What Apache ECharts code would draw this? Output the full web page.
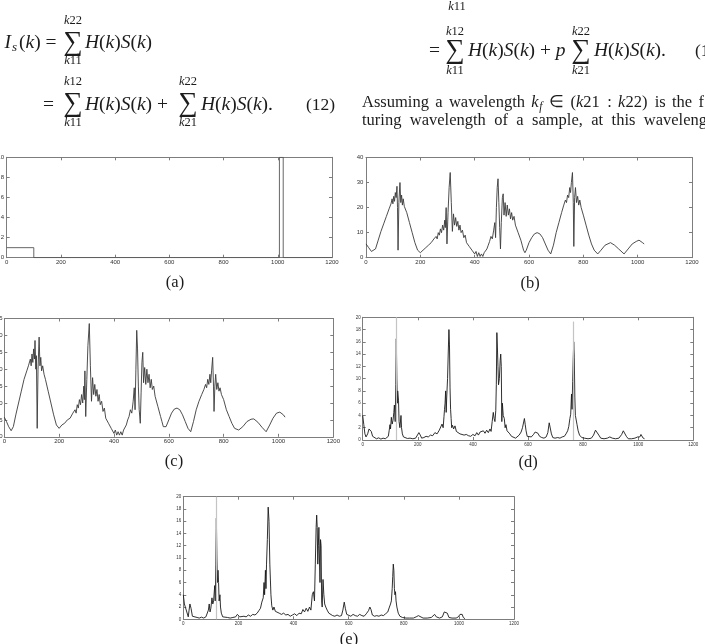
<!DOCTYPE html>
<html>
<head>
<meta charset="utf-8">
<script src="https://cdn.jsdelivr.net/npm/echarts@6/dist/echarts.min.js"></script>
<style>
html, body { margin: 0; padding: 0; background: #fff; }
#chart { width: 705px; height: 644px; }
</style>
</head>
<body>
<div id="chart"></div>
<script>
// ---- data ----
var captions = ['(a)', '(b)', '(c)', '(d)', '(e)'];
var xMax = 1200, xStep = 200;
var yMaxes = [10, 40, 35, 20, 20];
var ySteps = [2, 10, 5, 2, 2];

// (a) filter: low plateau + narrow window near 1010
var filterA = [[0,1],[100,1],[100,0],[1006,0],[1006,10],[1020,10],[1020,0],[1200,0]];

// (b) measured spectrum
var specB = [[0,5.5],[10,4],[20,2.5],[27,2],[35,3.5],[45,7],[55,10.5],[65,13.5],[75,16.5],[85,19.5],[92,21.5],[96,23.5],[99,21.5],[102,24.5],[105,22.5],[108,26],[111,24],[114,28.5],[116,20],[118,3],[121,22],[125,30],[128,22],[131,25],[134,21],[137,23.5],[141,20.5],[145,21],[150,18],[160,14],[170,10],[180,6],[190,3],[200,2],[210,3],[220,4],[230,5],[240,6],[250,7.5],[258,8.5],[262,7.5],[266,10],[270,9],[274,11.5],[278,10],[282,13],[286,11],[290,15],[292,12],[295,20],[298,5.5],[302,18],[306,28],[310,34],[314,22],[318,10.5],[322,17.5],[326,13],[330,16],[334,12.5],[338,14.5],[342,11],[346,13],[350,10],[355,11],[360,8],[365,9],[370,6],[375,6.5],[380,4.5],[385,4.5],[390,3],[395,3],[400,1.5],[405,2.5],[410,0.5],[415,2],[420,0.5],[425,1.5],[430,0.5],[435,2],[440,1.5],[445,3.5],[450,5],[455,6.5],[460,8.5],[465,7.5],[470,11],[474,14],[477,8],[480,20],[483,28],[486,31.5],[489,22],[492,12],[495,3.5],[498,14],[502,24],[505,25.5],[508,17],[512,22],[516,16.5],[520,21],[524,17],[528,19.5],[532,15.5],[536,18],[540,15],[545,16.5],[550,13],[555,13.5],[560,10],[565,9.5],[570,7],[575,5],[580,3],[585,2],[590,3],[600,6],[610,8],[620,9.5],[630,10],[640,9.5],[650,8],[660,5.5],[670,3],[680,1.5],[690,5],[700,10],[710,14],[720,18],[728,21],[734,23],[738,22],[742,25],[746,24],[750,28],[753,26],[756,30],[760,34],[763,22],[765,4.5],[768,24],[771,28],[775,22],[779,24.5],[783,21],[787,23],[792,20],[800,17],[810,13],[820,9],[830,5.5],[840,3],[853,1.5],[865,3],[880,5],[900,6],[915,5],[930,3.5],[950,1.5],[965,3.5],[980,5.5],[995,6.5],[1005,7],[1012,6.5],[1018,6],[1024,5.5]];

// (c) filtered spectrum
var specC = [[0,5.8],[8,4.5],[16,3],[25,1.8],[33,3],[42,6.5],[52,10],[62,13.5],[72,17],[82,19.5],[88,21],[92,20.5],[95,23],[98,21],[101,24.5],[104,22],[107,26],[110,23],[112,28.5],[115,20],[117,24],[120,2.5],[123,20],[127,29.5],[130,21],[133,23.5],[136,19.5],[140,21],[145,18.5],[150,17],[160,13.5],[170,10],[180,6.5],[190,3.5],[200,2.5],[210,3.5],[220,4],[230,5],[240,5.5],[250,7],[258,8],[262,7],[266,9.5],[270,8.5],[274,11],[278,9.5],[282,12.5],[286,10],[290,15],[292,11],[294,19.5],[297,6],[301,17],[305,27],[310,33.5],[314,21],[318,10.5],[322,17.5],[326,12.5],[330,15.5],[334,12],[338,14],[342,10.5],[346,12.5],[350,9.5],[355,10.5],[360,7.5],[365,8.5],[370,5.5],[375,6],[380,4],[385,4],[390,2.5],[395,2.5],[400,1],[405,2],[410,0.5],[415,1.5],[420,0.5],[425,1.5],[430,0.5],[435,2],[440,2],[445,3.5],[450,5],[455,6],[460,8],[465,7],[470,10.5],[474,14.5],[477,8],[480,20],[483,31.5],[486,26],[489,15],[492,8],[496,4],[499,13],[502,22],[505,25],[508,16],[512,20.5],[516,15.5],[520,20],[524,16],[528,18.5],[532,14.5],[536,17],[540,14],[545,15],[550,12],[555,12],[560,9],[565,8.5],[570,6],[575,4.5],[580,3],[585,2.5],[590,3],[600,5],[610,7],[620,8.2],[630,8.5],[640,8],[650,6.5],[660,4.5],[670,2.5],[680,1.5],[690,4.5],[700,8],[710,10.5],[720,12.5],[728,14],[734,15.5],[738,14.5],[742,17],[746,15.5],[750,18.5],[753,16],[756,19.5],[760,23.5],[763,15],[765,7.5],[768,15],[771,18.5],[775,14],[779,16],[783,13.5],[787,14.5],[792,12.5],[800,11],[810,8],[820,6],[830,4],[840,2.5],[855,2],[870,3],[885,4.5],[900,5.2],[910,5.3],[925,4.3],[940,2.8],[955,1.5],[968,3.5],[980,5.5],[993,7],[1005,7.3],[1012,7],[1018,6.5],[1024,5.8]];

// (d) recovered spectrum
var specD = [[0,4],[4,2.5],[8,1],[12,0.5],[18,1],[23,1.8],[27,2.1],[31,1.4],[36,0.6],[42,0.3],[50,0.2],[58,0.35],[66,0.15],[74,0.3],[82,0.2],[88,0.4],[93,0.6],[96,1.5],[99,2.5],[101,1.8],[104,3.7],[107,2.6],[110,3.2],[113,4.5],[115,5.7],[118,3],[120,9],[122,16.5],[124,10],[126,6],[127,8],[130,6.5],[132,3],[135,2],[139,4],[141,2],[144,1],[148,0.5],[153,0.3],[162,0.25],[172,0.3],[182,0.2],[192,0.3],[198,0.6],[204,1.2],[209,0.8],[214,0.3],[222,0.4],[230,0.6],[238,0.5],[246,0.8],[254,0.7],[262,1.2],[270,1],[278,1.6],[284,1.8],[288,2.6],[292,2],[295,3.8],[297,5],[299,6],[301,8],[303,4.5],[305,7],[308,10],[311,15],[313,18],[315,15.5],[317,8.5],[319,5],[321,3.5],[323,2],[326,2.4],[330,1.8],[335,2.3],[340,1.4],[346,1.5],[353,1],[360,1.1],[368,0.8],[376,0.9],[384,0.7],[392,0.6],[400,0.9],[408,0.7],[414,1.2],[420,0.8],[426,1.3],[432,1],[438,1.5],[444,1.1],[450,1.6],[456,1.2],[462,1.8],[466,1.4],[470,3],[474,4.5],[477,3.5],[480,3],[483,4.8],[485,9],[487,17.5],[489,15],[491,12],[493,9],[496,10],[499,13],[501,14],[503,12],[505,3],[507,6],[510,4],[514,3.5],[517,2],[520,2.5],[524,1.5],[529,1.8],[534,1],[540,0.6],[547,0.4],[555,0.3],[562,0.5],[568,0.8],[575,1.3],[580,2],[584,2.3],[587,3.5],[590,2.5],[593,1.5],[597,0.6],[604,0.4],[612,0.5],[620,0.9],[626,1.3],[631,1.2],[636,1.1],[642,0.6],[650,0.4],[658,0.3],[666,0.5],[672,1.2],[677,2.8],[681,2.7],[685,1],[690,0.4],[698,0.3],[708,0.4],[716,0.3],[724,0.5],[732,0.6],[738,1],[744,1.5],[748,2.2],[752,3.5],[755,4.2],[758,7.5],[760,5],[762,9.5],[764,13],[766,16],[768,13.5],[770,7],[772,4],[775,4.3],[778,2.5],[782,1.5],[787,0.8],[795,0.4],[805,0.3],[818,0.2],[830,0.3],[838,0.8],[845,1.6],[851,1.7],[857,0.8],[864,0.3],[876,0.2],[888,0.3],[897,0.5],[906,0.3],[918,0.2],[930,0.3],[940,0.9],[946,1.5],[951,1.4],[957,0.6],[964,0.2],[976,0.2],[988,0.3],[998,0.5],[1002,0.8],[1006,0.5],[1010,0.9],[1014,0.6],[1018,0.3],[1023,0.2]];

// (e) recovered spectrum, second method
var specE = [[0,4],[4,2.5],[8,1.9],[13,1.7],[18,0.4],[21,1.5],[24,2.5],[28,1.8],[33,0.5],[40,0.2],[50,0.3],[58,0.2],[66,0.35],[74,0.2],[82,0.4],[88,0.6],[91,1.5],[94,2.5],[97,1.2],[100,1.8],[104,3.5],[107,2.5],[110,3],[114,5.5],[116,3],[118,9],[120,16.5],[122,10],[124,6],[126,8],[128,6],[130,3],[133,4],[135,2],[138,1],[143,0.4],[150,0.2],[160,0.3],[170,0.2],[180,0.3],[190,0.4],[196,0.8],[200,1],[205,0.4],[212,0.3],[220,0.5],[228,0.4],[236,0.7],[244,0.5],[252,0.8],[260,0.7],[268,1],[274,1.4],[280,1.8],[285,2.8],[290,3.5],[293,6],[295,4],[298,8],[300,5],[302,9],[305,13],[308,18.3],[311,16],[314,9],[318,4],[321,2.2],[325,1.5],[329,2],[334,1.3],[340,1.2],[348,1],[356,0.8],[364,1],[372,0.7],[380,0.8],[388,0.5],[396,0.7],[404,0.9],[412,0.6],[420,1],[428,0.9],[434,1.6],[440,1.2],[446,1.8],[452,1.3],[458,2],[463,1.5],[468,4],[472,4.5],[476,3],[479,9],[482,15],[484,17],[486,15],[488,9],[490,12],[492,15],[494,10],[496,6],[498,13],[500,12],[502,3],[504,2],[507,6.5],[510,4],[513,2.5],[517,2],[522,1.5],[528,1],[535,0.8],[542,0.6],[550,0.5],[558,0.7],[566,0.5],[574,0.6],[579,1.5],[584,2.8],[588,1.8],[593,0.8],[600,0.6],[608,0.5],[616,0.8],[624,0.6],[632,0.5],[640,0.8],[648,0.6],[656,0.5],[664,0.9],[672,1.4],[677,2],[681,1.6],[686,0.7],[694,0.5],[702,0.6],[710,0.5],[718,0.7],[726,0.6],[734,0.9],[742,1.2],[748,2],[752,2.5],[755,3],[758,5],[760,7],[762,9],[764,8],[766,5],[768,4],[770,4.5],[772,3],[775,2],[780,1],[786,0.5],[795,0.3],[808,0.2],[820,0.2],[835,0.2],[845,0.4],[853,0.6],[860,0.3],[870,0.2],[885,0.2],[900,0.3],[906,0.6],[912,0.8],[918,0.4],[930,0.2],[940,0.4],[947,1.2],[953,1.5],[958,1],[964,0.3],[975,0.2],[990,0.2],[998,0.4],[1004,0.8],[1008,0.5],[1012,0.8],[1016,0.3],[1022,0.1]];

// faint grey spikes behind (d) and (e)
var greyD = [[121,20],[766,19.3]];
var greyE = [[118,20]];

var panelData = [filterA, specB, specC, specD, specE];
var panelGrey = [[], [], [], greyD, greyE];

// ---- layout ----
var grids = [
	{left: 6.7, top: 157.3, width: 325.3, height: 100.4},
	{left: 366, top: 157.5, width: 326, height: 100.2},
	{left: 4.3, top: 318.5, width: 329, height: 118.3},
	{left: 362.7, top: 317.3, width: 330.6, height: 122.7},
	{left: 183.3, top: 496.7, width: 330.7, height: 122.6}
];
var captionPos = [[175, 283], [530, 284], [174, 462], [528, 463], [349, 640]];
var labelSize = [6, 6, 6, 4.5, 4.5];
var yLabelMargin = [2.7, 2.7, 1.6, 2, 2];
var lineColor = ['#555', '#3a3a3a', '#3a3a3a', '#1a1a1a', '#1a1a1a'];

var FRAME = '#7d7d7d';
var SANS = '"Liberation Sans", Arial, sans-serif';
var SERIF = '"Liberation Serif", "Times New Roman", serif';
var INK = '#1c1c1c';

function axis(gi, pos, isX, max, step, fs, showLabel, margin)
{
	return {
		gridIndex: gi,
		type: 'value',
		position: pos,
		min: 0,
		max: max,
		interval: step,
		axisLine: {show: true, onZero: false, lineStyle: {color: FRAME, width: 1}},
		axisTick: {show: true, inside: true, length: 3, lineStyle: {color: FRAME, width: 1}},
		axisLabel: {
			show: showLabel, fontSize: fs, color: '#333', fontFamily: SANS,
			margin: isX ? 2 : margin,
			formatter: function(v) { return String(v); }
		},
		splitLine: {show: false}
	};
}

function txt(x, y, s, size, align, italic)
{
	return {
		type: 'text', x: x, y: y, silent: true,
		style: {
			text: s,
			fill: INK,
			font: (italic ? 'italic ' : '') + size + 'px ' + SERIF,
			align: align || 'left',
			verticalAlign: 'middle',
			rich: {
				i: {font: 'italic ' + size + 'px ' + SERIF, fill: INK}
			}
		}
	};
}

function sigma(cx, cy, top, bottom, dy, ody)
{
	return [
		txt(cx, cy, '\u2211', 27, 'center'),
		txt(cx, cy - dy, '{i|k}' + top, 12.5, 'center'),
		txt(cx, cy + ody, '{i|k}' + bottom, 12.5, 'center')
	];
}

// lay words of a justified text line between x0 and the end x1
var measureCtx = document.createElement('canvas').getContext('2d');
function isSub(w) { return typeof w === 'object'; }
function plainWidth(s, font)
{
	measureCtx.font = font;
	return measureCtx.measureText(s).width;
}
function wordWidth(w, size)
{
	if (isSub(w))
		return plainWidth(w.base, 'italic ' + size + 'px ' + SERIF)
			+ plainWidth(w.low, 'italic ' + (size * 0.7) + 'px ' + SERIF) + 1;
	return plainWidth(w.replace(/\{i\|/g, '').replace(/\}/g, ''), size + 'px ' + SERIF);
}
function justify(words, x0, x1, y, size)
{
	var widths = words.map(function(w) { return wordWidth(w, size); });
	var total = widths.reduce(function(a, b) { return a + b; }, 0);
	var gap = (x1 - x0 - total) / (words.length - 1);
	var out = [], x = x0;
	for (var j = 0; j < words.length; j++)
	{
		var w = words[j];
		if (isSub(w))
		{
			out.push(txt(x, y, '{i|' + w.base + '}', size));
			var bw = plainWidth(w.base, 'italic ' + size + 'px ' + SERIF);
			out.push(txt(x + bw + 0.5, y + 4, w.low, size * 0.7, 'left', true));
		}
		else
			out.push(txt(x, y, w, size));
		x += widths[j] + gap;
	}
	return out;
}

var HS = '{i|H}({i|k}){i|S}({i|k})';
var M = 19.5;

var graphics = [];
// left column equation
graphics.push(txt(4.5, 43, '{i|I}', M));
graphics.push(txt(12, 48, 's', 13, 'left', true));
graphics.push(txt(19, 43, '({i|k}) =', M));
graphics = graphics.concat(sigma(73, 43, '22', '11', 22, 18));
graphics.push(txt(85, 43, HS, M));

graphics.push(txt(43, 105, '=', M));
graphics = graphics.concat(sigma(73, 104, '12', '11', 22, 19));
graphics.push(txt(85, 105, HS + ' +', M));
graphics = graphics.concat(sigma(188, 104, '22', '21', 22, 19));
graphics.push(txt(201, 105, HS + '.', M));
graphics.push(txt(306, 105, '(12)', 17.5));

// right column equation
graphics.push(txt(457, 7, '{i|k}11', 12.5, 'center'));
graphics.push(txt(429, 51, '=', M));
graphics = graphics.concat(sigma(455, 51, '12', '11', 19, 20));
graphics.push(txt(468, 51, HS + ' + {i|p}', M));
graphics = graphics.concat(sigma(581, 51, '22', '21', 19, 20));
graphics.push(txt(594, 51, HS + '.', M));
graphics.push(txt(695, 51, '(13)', 17.5));

// paragraph, justified like the page
var line1 = ['Assuming', 'a', 'wavelength', {base: 'k', low: 'f'}, '\u2208', '({i|k}21', ':', '{i|k}22)', 'is', 'the', 'f'];
var line2 = ['turing', 'wavelength', 'of', 'a', 'sample,', 'at', 'this', 'waveleng'];
graphics = graphics.concat(justify(line1, 362, 704, 103, 16.5));
graphics = graphics.concat(justify(line2, 362, 707, 121, 16.5));

// captions
for (var c = 0; c < captions.length; c++)
	graphics.push(txt(captionPos[c][0], captionPos[c][1], captions[c], 16.5, 'center'));

var gridOpt = [], xAxes = [], yAxes = [], series = [];

for (var i = 0; i < grids.length; i++)
{
	var g = grids[i];
	gridOpt.push({left: g.left, top: g.top, width: g.width, height: g.height, containLabel: false, outerBoundsMode: 'none'});

	xAxes.push(axis(i, 'bottom', true, xMax, xStep, labelSize[i], true));
	xAxes.push(axis(i, 'top', true, xMax, xStep, labelSize[i], false));
	yAxes.push(axis(i, 'left', false, yMaxes[i], ySteps[i], labelSize[i], true, yLabelMargin[i]));
	yAxes.push(axis(i, 'right', false, yMaxes[i], ySteps[i], labelSize[i], false, yLabelMargin[i]));

	if (panelGrey[i].length > 0)
	{
		series.push({
			type: 'line',
			xAxisIndex: i * 2,
			yAxisIndex: i * 2,
			data: [],
			z: 1,
			silent: true,
			markLine: {
				silent: true,
				symbol: ['none', 'none'],
				label: {show: false},
				lineStyle: {color: '#c4c4c4', type: 'solid', width: 1.2},
				data: panelGrey[i].map(function(p) { return [{coord: [p[0], 0]}, {coord: [p[0], p[1]]}]; })
			}
		});
	}

	series.push({
		type: 'line',
		xAxisIndex: i * 2,
		yAxisIndex: i * 2,
		data: panelData[i],
		symbol: 'none',
		z: 2,
		clip: true,
		lineStyle: {color: lineColor[i], width: 0.9}
	});
}

var chart = echarts.init(document.getElementById('chart'));
chart.setOption({
	animation: false,
	backgroundColor: '#fff',
	grid: gridOpt,
	xAxis: xAxes,
	yAxis: yAxes,
	series: series,
	graphic: graphics
});
</script>
</body>
</html>
